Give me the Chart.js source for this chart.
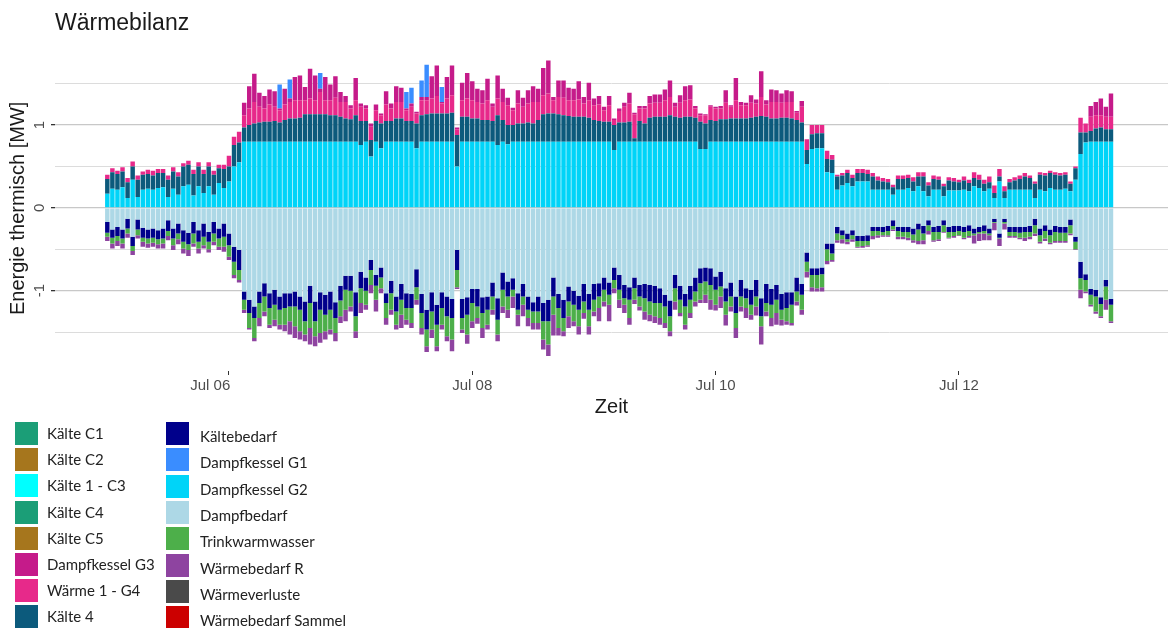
<!DOCTYPE html>
<html lang="de">
<head>
<meta charset="utf-8">
<title>Wärmebilanz</title>
<script src="https://cdn.jsdelivr.net/npm/chart.js@4.4.1/dist/chart.umd.min.js"></script>
<style>
  html, body { margin: 0; padding: 0; background: #fff; }
  #wrap { position: relative; width: 1168px; height: 628px; overflow: hidden; }
  #legende { position: absolute; left: 0; top: 0; width: 1168px; height: 628px; pointer-events: none;
             font-family: Lato, "Open Sans", sans-serif; font-size: 15px; color: #222; }
  .box { position: absolute; width: 23px; height: 23px; }
  .txt { position: absolute; line-height: 18px; white-space: nowrap; }
</style>
</head>
<body>
<div id="wrap">
  <canvas id="grafik" width="1168" height="628"></canvas>
  <div id="legende"></div>
</div>
<script>
// Stunden ab 05.07. 00:00
const stunden = Array.from({ length: 199 }, (_, i) => i);
const tickStunden = [24, 72, 120, 168];
const beschriftungsStunden = [20.3, 72, 120, 168];   // "Jul 06" sitzt links neben seinem Strich
const tickBeschriftungen = ["Jul 06", "Jul 08", "Jul 10", "Jul 12"];
const yTicks = [-1.5, -1, -0.5, 0, 0.5, 1, 1.5];

// Erzeugung (positiv)
const dampfkesselG2 = [
  0.17,0.23,0.22,0.25,0.12,0.34,0.13,0.22,0.23,0.22,
  0.24,0.25,0.13,0.23,0.16,0.26,0.28,0.15,0.26,0.18,
  0.26,0.16,0.30,0.24,0.32,0.50,0.55,0.80,0.80,0.80,
  0.80,0.80,0.80,0.80,0.80,0.80,0.80,0.80,0.80,0.80,
  0.80,0.80,0.80,0.80,0.80,0.80,0.80,0.80,0.80,0.80,
  0.76,0.80,0.62,0.80,0.72,0.80,0.80,0.80,0.80,0.80,
  0.80,0.72,0.80,0.80,0.80,0.80,0.80,0.80,0.80,0.50,
  0.80,0.80,0.80,0.80,0.80,0.80,0.80,0.76,0.80,0.77,
  0.80,0.80,0.80,0.80,0.80,0.80,0.80,0.80,0.80,0.80,
  0.80,0.80,0.80,0.80,0.80,0.80,0.80,0.80,0.80,0.80,
  0.70,0.80,0.80,0.80,0.80,0.80,0.80,0.80,0.80,0.80,
  0.80,0.80,0.80,0.80,0.80,0.80,0.80,0.71,0.71,0.80,
  0.80,0.80,0.80,0.80,0.80,0.80,0.80,0.80,0.80,0.80,
  0.80,0.80,0.80,0.80,0.80,0.80,0.80,0.80,0.53,0.71,
  0.72,0.72,0.43,0.42,0.22,0.27,0.30,0.26,0.32,0.32,
  0.32,0.22,0.22,0.22,0.22,0.16,0.22,0.22,0.24,0.20,
  0.26,0.20,0.14,0.22,0.22,0.14,0.21,0.21,0.21,0.22,
  0.20,0.26,0.24,0.20,0.23,0.12,0.32,0.12,0.22,0.22,
  0.22,0.22,0.22,0.12,0.22,0.20,0.24,0.22,0.22,0.23,
  0.20,0.34,0.65,0.79,0.80,0.80,0.80,0.80,0.80
];
const kaelte4 = [
  0.18,0.20,0.19,0.19,0.19,0.16,0.21,0.18,0.18,0.17,
  0.18,0.17,0.21,0.21,0.22,0.24,0.24,0.26,0.24,0.23,
  0.24,0.24,0.18,0.23,0.18,0.26,0.24,0.17,0.20,0.22,
  0.23,0.24,0.24,0.25,0.23,0.26,0.28,0.28,0.29,0.33,
  0.33,0.33,0.33,0.33,0.32,0.32,0.30,0.28,0.27,0.32,
  0.29,0.25,0.20,0.25,0.30,0.25,0.25,0.28,0.28,0.25,
  0.25,0.30,0.32,0.33,0.34,0.34,0.34,0.34,0.35,0.38,
  0.30,0.30,0.28,0.28,0.26,0.26,0.25,0.36,0.26,0.23,
  0.20,0.22,0.22,0.23,0.22,0.26,0.33,0.34,0.34,0.33,
  0.32,0.31,0.30,0.30,0.30,0.29,0.26,0.25,0.24,0.24,
  0.30,0.23,0.23,0.24,0.04,0.25,0.22,0.29,0.30,0.30,
  0.30,0.32,0.30,0.29,0.30,0.30,0.29,0.33,0.31,0.26,
  0.25,0.27,0.27,0.28,0.28,0.28,0.28,0.29,0.30,0.31,
  0.30,0.28,0.28,0.29,0.29,0.28,0.26,0.23,0.17,0.18,
  0.18,0.18,0.16,0.16,0.16,0.12,0.12,0.10,0.10,0.10,
  0.09,0.16,0.11,0.10,0.09,0.09,0.13,0.13,0.12,0.12,
  0.12,0.18,0.13,0.13,0.12,0.12,0.12,0.11,0.10,0.11,
  0.10,0.10,0.10,0.09,0.08,0.06,0.06,0.08,0.09,0.11,
  0.13,0.16,0.14,0.17,0.18,0.19,0.18,0.18,0.17,0.17,
  0.09,0.14,0.26,0.12,0.13,0.16,0.17,0.15,0.15
];
const waerme1G4 = [
  0.05,0.05,0.04,0.05,0.05,0.06,0.05,0.04,0.05,0.06,
  0.05,0.05,0.05,0.05,0.05,0.04,0.05,0.05,0.05,0.05,
  0.05,0.05,0.04,0.05,0.13,0.10,0.13,0.15,0.20,0.26,
  0.19,0.16,0.21,0.17,0.15,0.19,0.20,0.22,0.21,0.17,
  0.19,0.17,0.27,0.17,0.18,0.21,0.18,0.20,0.13,0.18,
  0.17,0.15,0.16,0.13,0.10,0.20,0.15,0.20,0.20,0.13,
  0.17,0.12,0.18,0.17,0.18,0.21,0.12,0.18,0.21,0.07,
  0.20,0.22,0.22,0.20,0.20,0.24,0.17,0.20,0.22,0.24,
  0.18,0.24,0.20,0.23,0.26,0.22,0.23,0.24,0.16,0.21,
  0.21,0.19,0.20,0.21,0.16,0.21,0.18,0.20,0.14,0.20,
  0.06,0.14,0.19,0.22,0.29,0.15,0.18,0.17,0.17,0.17,
  0.20,0.22,0.12,0.18,0.20,0.21,0.11,0.08,0.10,0.16,
  0.15,0.13,0.20,0.14,0.22,0.16,0.16,0.18,0.16,0.23,
  0.15,0.20,0.20,0.18,0.19,0.20,0.09,0.19,0.13,0.11,
  0.10,0.10,0.10,0.06,0.02,0.03,0.04,0.04,0.05,0.05,
  0.05,0.04,0.05,0.04,0.04,0.03,0.04,0.04,0.04,0.05,
  0.05,0.05,0.04,0.04,0.04,0.03,0.04,0.04,0.03,0.05,
  0.04,0.07,0.06,0.05,0.07,0.09,0.09,0.06,0.04,0.04,
  0.04,0.04,0.03,0.03,0.03,0.03,0.03,0.03,0.03,0.03,
  0.03,0.02,0.18,0.11,0.17,0.16,0.15,0.15,0.15
];
const dampfkesselG3 = [
  0,0,0,0,0,0,0,0,0,0,
  0,0,0,0,0,0,0,0,0,0,
  0,0,0,0,0,0,0,0.15,0.27,0.34,
  0.17,0.15,0.18,0.19,0.02,0.19,0.04,0.28,0.30,0.16,
  0.36,0.30,0.04,0.28,0.19,0.26,0.12,0.07,0.04,0.27,
  0.04,0.04,0.04,0.07,0.02,0.16,0.06,0.19,0.17,0.02,
  0.04,0.02,0.04,0.04,0.27,0.37,0.02,0.26,0.36,0.02,
  0.21,0.31,0.23,0.16,0.16,0.26,0.04,0.28,0.16,0.09,
  0.03,0.16,0.11,0.16,0.19,0.16,0.33,0.40,0.04,0.20,
  0.21,0.15,0.14,0.22,0.08,0.21,0.08,0.10,0.04,0.11,
  0.02,0.03,0.05,0.13,0.02,0.03,0.03,0.09,0.10,0.10,
  0.13,0.20,0.05,0.09,0.17,0.17,0.03,0.02,0.01,0.02,
  0.02,0.03,0.15,0.02,0.27,0.04,0.03,0.09,0.05,0.31,
  0.05,0.15,0.14,0.11,0.14,0.13,0.02,0.07,0,0,
  0,0,0,0,0,0,0,0,0,0,
  0,0,0,0,0,0,0,0,0,0,
  0,0,0,0,0,0,0,0,0,0,
  0,0,0,0,0,0,0,0,0,0,
  0,0,0,0,0,0,0,0,0,0,
  0,0,0,0,0.13,0.16,0.20,0.12,0.28
];
// Dampfkessel G1 nur in einzelnen Stunden
const g1Stunden = [34, 36, 42, 59, 60, 62, 63, 66];
const g1Werte = [0.29, 0.23, 0.19, 0.20, 0.19, 0.20, 0.39, 0.18];

// Bedarf (negativ)
const dampfbedarf = [
  -0.17,-0.26,-0.23,-0.26,-0.13,-0.35,-0.14,-0.24,-0.26,-0.25,
  -0.27,-0.25,-0.15,-0.25,-0.19,-0.27,-0.30,-0.17,-0.27,-0.19,
  -0.29,-0.17,-0.25,-0.19,-0.31,-0.47,-0.51,-1.01,-1.11,-1.19,
  -1.01,-0.91,-1.03,-0.99,-1.07,-1.03,-1.03,-1.01,-1.07,-1.13,
  -0.94,-1.13,-1.02,-1.05,-1.01,-1.14,-0.94,-0.82,-0.82,-1.02,
  -0.77,-0.84,-0.63,-0.81,-0.72,-1.03,-0.88,-1.07,-0.92,-1.03,
  -1.04,-0.74,-1.04,-1.23,-1.02,-1.17,-1.02,-1.07,-1.10,-0.51,
  -1.10,-1.08,-0.98,-0.98,-1.08,-1.07,-0.90,-1.09,-0.78,-0.89,
  -0.85,-1.03,-0.92,-1.07,-1.14,-1.07,-1.15,-1.11,-0.84,-1.04,
  -1.11,-0.95,-1.00,-1.06,-0.92,-1.04,-0.92,-0.91,-0.84,-0.90,
  -0.72,-0.81,-0.93,-0.96,-0.84,-0.93,-0.92,-0.93,-0.94,-0.97,
  -1.05,-1.12,-0.81,-0.94,-1.04,-0.94,-0.84,-0.73,-0.72,-0.73,
  -0.83,-0.77,-0.97,-0.90,-1.07,-0.87,-0.97,-0.99,-0.87,-1.09,
  -0.92,-0.98,-0.93,-1.04,-1.02,-1.02,-0.84,-0.92,-0.54,-0.73,
  -0.73,-0.72,-0.43,-0.43,-0.23,-0.27,-0.31,-0.27,-0.34,-0.34,
  -0.33,-0.23,-0.23,-0.23,-0.22,-0.15,-0.23,-0.23,-0.23,-0.25,
  -0.19,-0.22,-0.15,-0.23,-0.22,-0.15,-0.23,-0.22,-0.22,-0.23,
  -0.21,-0.25,-0.23,-0.21,-0.25,-0.13,-0.31,-0.13,-0.23,-0.23,
  -0.23,-0.23,-0.22,-0.13,-0.25,-0.21,-0.26,-0.22,-0.23,-0.23,
  -0.14,-0.35,-0.65,-0.80,-0.98,-0.99,-1.08,-0.87,-1.10
];
const kaeltebedarf = [
  -0.13,-0.10,-0.11,-0.11,-0.12,-0.11,-0.12,-0.12,-0.11,-0.11,
  -0.11,-0.12,-0.13,-0.12,-0.12,-0.14,-0.14,-0.14,-0.14,-0.16,
  -0.12,-0.14,-0.12,-0.16,-0.14,-0.18,-0.24,-0.10,-0.16,-0.14,
  -0.14,-0.16,-0.18,-0.18,-0.16,-0.18,-0.16,-0.18,-0.16,-0.24,
  -0.21,-0.24,-0.21,-0.24,-0.22,-0.19,-0.18,-0.17,-0.18,-0.29,
  -0.20,-0.16,-0.12,-0.13,-0.12,-0.12,-0.15,-0.18,-0.19,-0.18,
  -0.17,-0.22,-0.23,-0.24,-0.23,-0.24,-0.19,-0.24,-0.23,-0.24,
  -0.23,-0.21,-0.17,-0.21,-0.19,-0.16,-0.17,-0.26,-0.21,-0.18,
  -0.14,-0.20,-0.15,-0.16,-0.11,-0.18,-0.22,-0.26,-0.23,-0.17,
  -0.22,-0.18,-0.17,-0.17,-0.21,-0.19,-0.19,-0.16,-0.15,-0.15,
  -0.15,-0.18,-0.16,-0.15,-0.13,-0.14,-0.17,-0.20,-0.21,-0.18,
  -0.14,-0.19,-0.16,-0.17,-0.15,-0.17,-0.17,-0.18,-0.17,-0.20,
  -0.16,-0.18,-0.16,-0.17,-0.20,-0.20,-0.12,-0.18,-0.20,-0.22,
  -0.23,-0.19,-0.18,-0.19,-0.19,-0.15,-0.17,-0.13,-0.11,-0.08,
  -0.08,-0.08,-0.07,-0.12,-0.08,-0.06,-0.07,-0.06,-0.06,-0.06,
  -0.07,-0.05,-0.05,-0.06,-0.06,-0.07,-0.05,-0.06,-0.06,-0.07,
  -0.07,-0.09,-0.06,-0.06,-0.07,-0.06,-0.06,-0.07,-0.06,-0.06,
  -0.07,-0.06,-0.06,-0.07,-0.06,-0.04,-0.05,-0.04,-0.06,-0.06,
  -0.07,-0.06,-0.07,-0.08,-0.08,-0.07,-0.07,-0.07,-0.07,-0.07,
  -0.07,-0.06,-0.20,-0.07,-0.07,-0.08,-0.08,-0.08,-0.07
];
const trinkwarmwasser = [
  -0.05,-0.07,-0.06,-0.06,-0.06,-0.06,-0.07,-0.05,-0.06,-0.06,
  -0.06,-0.06,-0.06,-0.08,-0.07,-0.08,-0.07,-0.12,-0.08,-0.10,
  -0.09,-0.10,-0.10,-0.12,-0.14,-0.16,-0.12,-0.12,-0.18,-0.24,
  -0.18,-0.18,-0.20,-0.18,-0.18,-0.20,-0.18,-0.24,-0.26,-0.16,
  -0.30,-0.18,-0.28,-0.20,-0.24,-0.18,-0.19,-0.24,-0.19,-0.18,
  -0.18,-0.17,-0.18,-0.17,-0.13,-0.18,-0.20,-0.16,-0.18,-0.14,
  -0.18,-0.15,-0.18,-0.20,-0.22,-0.26,-0.20,-0.24,-0.26,-0.21,
  -0.14,-0.24,-0.22,-0.14,-0.18,-0.18,-0.16,-0.18,-0.20,-0.16,
  -0.08,-0.06,-0.10,-0.10,-0.14,-0.14,-0.22,-0.28,-0.22,-0.24,
  -0.16,-0.18,-0.20,-0.20,-0.14,-0.20,-0.14,-0.14,-0.14,-0.12,
  -0.10,-0.12,-0.08,-0.22,-0.14,-0.12,-0.16,-0.16,-0.16,-0.18,
  -0.20,-0.18,-0.16,-0.16,-0.22,-0.16,-0.12,-0.20,-0.16,-0.18,
  -0.18,-0.12,-0.16,-0.12,-0.18,-0.12,-0.12,-0.12,-0.12,-0.12,
  -0.10,-0.16,-0.16,-0.12,-0.16,-0.22,-0.12,-0.18,-0.12,-0.15,
  -0.16,-0.16,-0.14,-0.08,-0.08,-0.05,-0.03,-0.05,-0.07,-0.06,
  -0.05,-0.06,-0.05,-0.04,-0.05,-0.04,-0.07,-0.06,-0.07,-0.07,
  -0.14,-0.08,-0.07,-0.10,-0.09,-0.08,-0.07,-0.05,-0.05,-0.07,
  -0.06,-0.02,-0.02,-0.03,-0.02,-0.01,-0.01,-0.02,-0.05,-0.05,
  -0.06,-0.07,-0.06,-0.10,-0.08,-0.09,-0.09,-0.11,-0.10,-0.10,
  -0.10,-0.09,-0.14,-0.14,-0.12,-0.18,-0.15,-0.16,-0.20
];
const waermebedarfR = [
  -0.05,-0.06,-0.06,-0.06,-0.05,-0.05,-0.04,-0.06,-0.05,-0.05,
  -0.05,-0.06,-0.05,-0.06,-0.06,-0.06,-0.07,-0.04,-0.06,-0.04,
  -0.04,-0.04,-0.04,-0.06,-0.04,-0.04,-0.03,-0.04,-0.02,-0.04,
  -0.10,-0.06,-0.04,-0.08,-0.06,-0.08,-0.16,-0.14,-0.10,-0.08,
  -0.20,-0.12,-0.12,-0.10,-0.06,-0.10,-0.08,-0.14,-0.06,-0.08,
  -0.12,-0.06,-0.10,-0.14,-0.06,-0.08,-0.06,-0.06,-0.16,-0.06,
  -0.06,-0.06,-0.08,-0.07,-0.10,-0.06,-0.06,-0.06,-0.14,-0.02,
  -0.04,-0.11,-0.08,-0.07,-0.12,-0.06,-0.06,-0.08,-0.08,-0.10,
  -0.14,-0.14,-0.14,-0.10,-0.08,-0.08,-0.12,-0.14,-0.25,-0.09,
  -0.06,-0.14,-0.06,-0.10,-0.07,-0.10,-0.06,-0.16,-0.06,-0.20,
  -0.06,-0.10,-0.10,-0.08,-0.05,-0.05,-0.10,-0.08,-0.08,-0.08,
  -0.06,-0.06,-0.10,-0.04,-0.06,-0.06,-0.06,-0.04,-0.10,-0.12,
  -0.07,-0.14,-0.13,-0.06,-0.12,-0.06,-0.12,-0.06,-0.11,-0.22,
  -0.06,-0.10,-0.14,-0.07,-0.04,-0.03,-0.05,-0.06,-0.07,-0.05,
  -0.04,-0.05,-0.04,-0.02,-0.03,-0.05,-0.03,-0.03,-0.01,-0.02,
  -0.02,-0.04,-0.03,-0.02,-0.02,-0.02,-0.03,-0.03,-0.03,-0.03,
  -0.04,-0.05,-0.04,-0.02,-0.02,-0.01,-0.01,-0.02,-0.01,-0.02,
  -0.02,-0.10,-0.09,-0.08,-0.06,-0.09,-0.09,-0.07,-0.02,-0.02,
  -0.02,-0.04,-0.03,-0.03,-0.02,-0.03,-0.02,-0.02,-0.02,-0.02,
  -0.02,-0.01,-0.10,-0.02,-0.02,-0.03,-0.02,-0.12,-0.02
];

const farben = {
  "Kälte C1": "#1b9e77",
  "Kälte C2": "#a6761d",
  "Kälte 1 - C3": "#00ffff",
  "Kälte C4": "#1b9e77",
  "Kälte C5": "#a6761d",
  "Dampfkessel G3": "#c51b8a",
  "Wärme 1 - G4": "#e7298a",
  "Kälte 4": "#0c5a7c",
  "Kältebedarf": "#00008b",
  "Dampfkessel G1": "#3a8dff",
  "Dampfkessel G2": "#00d4f8",
  "Dampfbedarf": "#add8e6",
  "Trinkwarmwasser": "#4daf4a",
  "Wärmebedarf R": "#8e44a0",
  "Wärmeverluste": "#4a4a4a",
  "Wärmebedarf Sammel": "#cc0000"
};
const legendeLinks = ["Kälte C1", "Kälte C2", "Kälte 1 - C3", "Kälte C4", "Kälte C5", "Dampfkessel G3", "Wärme 1 - G4", "Kälte 4"];
const legendeRechts = ["Kältebedarf", "Dampfkessel G1", "Dampfkessel G2", "Dampfbedarf", "Trinkwarmwasser", "Wärmebedarf R", "Wärmeverluste", "Wärmebedarf Sammel"];

[dampfkesselG2, kaelte4, waerme1G4, dampfkesselG3, dampfbedarf, kaeltebedarf, trinkwarmwasser, waermebedarfR].forEach((a, i) => {
  if (a.length !== stunden.length) throw new Error("Reihe " + i + " hat " + a.length + " Werte");
});

function reihe(name, data) {
  return { label: name, data: data, backgroundColor: farben[name] };
}

const datasets = [
  reihe("Dampfkessel G2", dampfkesselG2),
  reihe("Kälte 4", kaelte4),
  reihe("Wärme 1 - G4", waerme1G4),
  reihe("Dampfkessel G3", dampfkesselG3),
  reihe("Dampfkessel G1", g1Stunden.map((h, i) => ({ x: h, y: g1Werte[i] }))),
  reihe("Dampfbedarf", dampfbedarf),
  reihe("Kältebedarf", kaeltebedarf),
  reihe("Trinkwarmwasser", trinkwarmwasser),
  reihe("Wärmebedarf R", waermebedarfR),
  reihe("Kälte C1", []), reihe("Kälte C2", []), reihe("Kälte 1 - C3", []),
  reihe("Kälte C4", []), reihe("Kälte C5", []),
  reihe("Wärmeverluste", []), reihe("Wärmebedarf Sammel", [])
];

const schrift = "'Liberation Sans', Arial, sans-serif";
Chart.defaults.font.family = schrift;

// Striche und Beschriftungen der x-Achse (Beschriftung darf neben dem Strich liegen)
function xTicks() {
  const t = [];
  tickStunden.forEach((h, i) => {
    if (beschriftungsStunden[i] !== h) t.push({ value: beschriftungsStunden[i] });
    t.push({ value: h });
  });
  return t;
}

const chart = new Chart(document.getElementById("grafik"), {
  type: "bar",
  data: { labels: stunden, datasets: datasets },
  options: {
    responsive: false,
    animation: false,
    layout: { padding: { left: 0, right: 0, top: 0, bottom: 208 } },
    datasets: { bar: { barPercentage: 0.88, categoryPercentage: 1, borderWidth: 0 } },
    plugins: {
      legend: { display: false },
      tooltip: { enabled: false },
      title: {
        display: true, text: "Wärmebilanz", align: "start", fullSize: false,
        color: "#1a1a1a", font: { size: 23, weight: "normal" },
        padding: { top: 10, bottom: 8 }
      }
    },
    scales: {
      x: {
        type: "linear", stacked: true, min: -10.32, max: 209.25, offset: false,
        border: { display: false },
        grid: {
          drawOnChartArea: false, drawTicks: true, tickLength: 4, offset: false,
          tickColor: c => tickStunden.includes(c.tick.value) ? "#333333" : "rgba(0,0,0,0)"
        },
        ticks: {
          color: "#4d4d4d", font: { size: 15 }, padding: 2, maxRotation: 0, autoSkip: false,
          callback: v => {
            const i = beschriftungsStunden.indexOf(v);
            return i >= 0 ? tickBeschriftungen[i] : "";
          }
        },
        title: { display: true, text: "Zeit", color: "#1a1a1a", font: { size: 20 }, padding: { top: 0, bottom: 1 } },
        afterBuildTicks: s => { s.ticks = xTicks(); },
        afterFit: s => { s.height = 49; }
      },
      y: {
        stacked: true, min: -1.97, max: 1.96,
        border: { display: false },
        grid: {
          color: c => Number.isInteger(c.tick.value) ? "#c8c8c8" : "#dcdcdc",
          lineWidth: c => Number.isInteger(c.tick.value) ? 1.3 : 1,
          tickLength: 4,
          tickColor: c => Number.isInteger(c.tick.value) ? "#333333" : "rgba(0,0,0,0)"
        },
        ticks: {
          color: "#4d4d4d", font: { size: 15 }, padding: 4,
          minRotation: 90, maxRotation: 90, crossAlign: "center",
          callback: v => Number.isInteger(v) ? String(v) : ""
        },
        title: { display: true, text: "Energie thermisch [MW]", color: "#1a1a1a", font: { size: 20 }, padding: { top: 6, bottom: 0 } },
        afterBuildTicks: s => { s.ticks = yTicks.map(v => ({ value: v })); },
        afterFit: s => { s.width = 55; }
      }
    }
  }
});

// Legende in zwei Spalten unter der Grafik
const legende = document.getElementById("legende");
function eintrag(name, boxX, textX, top, textDy) {
  const box = document.createElement("div");
  box.className = "box";
  box.style.left = boxX + "px";
  box.style.top = top + "px";
  box.style.background = farben[name];
  legende.appendChild(box);
  const txt = document.createElement("div");
  txt.className = "txt";
  txt.style.left = textX + "px";
  txt.style.top = (top + 2 + textDy) + "px";
  txt.textContent = name;
  legende.appendChild(txt);
}
legendeLinks.forEach((n, i) => eintrag(n, 15, 47, 422 + i * 26.2, 0));
legendeRechts.forEach((n, i) => eintrag(n, 166, 200, 422 + i * 26.3, 3));
</script>
</body>
</html>
